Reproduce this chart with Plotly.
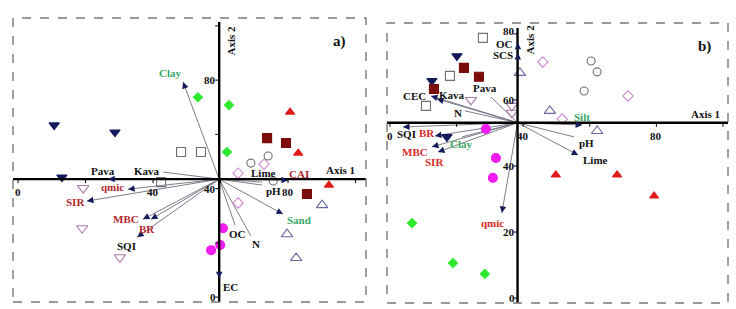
import plotly.graph_objects as go

W, H = 736, 309

# ---------------- Panel a) data (axis units as printed) ----------------
A_ORIGIN = (59.6, 43.5)
A_VARS = ["Clay", "Pava", "Kava", "qmic", "SIR", "MBC", "BR", "SQI",
          "Lime", "pH", "CAI", "Sand", "OC", "N", "EC"]
A_VAR_X = [48.9, 26.7, 43.0, 32.6, 20.4, 37.0, 39.4, 35.3,
           72.3, 72.3, 80.0, 78.5, 64.3, 69.0, 59.6]
A_VAR_Y = [79.3, 43.5, 46.1, 39.8, 35.4, 28.7, 28.7, 22.1,
           42.4, 41.3, 43.1, 30.6, 26.5, 22.5, 7.0]

A_SITE_GROUP = ["G1"] * 3 + ["G2"] * 3 + ["G3"] * 3 + ["G4"] * 3 + ["G5"] * 3 + \
               ["G6"] * 3 + ["G7"] * 3 + ["G8"] * 3 + ["G9"] * 3 + ["G10"] * 3
A_SITE_X = [10.7, 28.7, 13.0, 53.3, 62.5, 61.9, 48.3, 54.2, 42.4, 73.8, 79.4, 85.6,
            80.6, 83.0, 92.1, 74.1, 69.0, 75.6, 72.9, 65.2, 65.2, 19.3, 19.0, 30.2,
            90.1, 79.7, 82.4, 60.7, 59.9, 57.2]
A_SITE_Y = [63.4, 60.8, 44.2, 73.7, 70.8, 53.5, 53.5, 53.5, 42.4, 58.6, 56.8, 38.0,
            68.2, 53.1, 41.3, 52.0, 49.4, 42.8, 49.0, 45.7, 34.7, 40.2, 25.4, 14.7,
            33.9, 23.2, 14.4, 25.4, 19.2, 17.3]

A_XTICK_LABELS = [0, 40, 80]
A_YTICK_LABELS = [0, 40, 80]
A_TICKS = [0, 20, 40, 60, 80, 100]

# ---------------- Panel b) data ----------------
B_ORIGIN = (38.3, 53.1)
B_VARS = ["OC", "SCS", "Pava", "CEC", "Kava", "N", "SQI", "BR", "Clay",
          "MBC", "SIR", "qmic", "pH", "Lime", "Silt"]
B_VAR_X = [38.4, 38.4, 30.3, 12.3, 14.1, 22.5, 3.9, 13.5, 21.6,
           12.6, 14.4, 33.6, 55.3, 56.5, 57.7]
B_VAR_Y = [77.3, 74.2, 60.9, 61.2, 60.3, 56.7, 51.8, 49.1, 48.8,
           45.8, 44.2, 25.8, 48.8, 43.3, 52.4]

B_SITE_GROUP = A_SITE_GROUP
B_SITE_X = [20.1, 12.6, 17.1, 6.6, 18.9, 28.5, 27.9, 18.0, 10.8, 22.2, 26.7, 13.2,
            49.8, 68.2, 79.3, 60.4, 62.2, 58.3, 45.9, 71.5, 51.7, 24.3, 36.6, 36.6,
            39.0, 48.0, 62.2, 28.8, 31.8, 30.9]
B_SITE_Y = [73.3, 65.8, 48.8, 22.7, 10.6, 7.3, 78.8, 67.3, 58.2, 69.7, 67.0, 63.3,
            37.3, 37.3, 30.9, 71.8, 68.5, 62.7, 71.5, 61.2, 54.2, 60.0, 58.2, 56.1,
            68.2, 56.7, 50.6, 51.2, 42.4, 36.4]

B_XTICK_LABELS = [0, 40, 80]
B_YTICK_LABELS = [0, 20, 40, 60, 80]
B_TICKS_X = [0, 20, 40, 60, 80, 100]
B_TICKS_Y = [0, 20, 40, 60, 80]

# ---------------- styles ----------------
FONT = "Liberation Serif"
BLACK, RED_A, RED_B, GREEN = "#111111", "#b3262a", "#d92b2b", "#3aa866"
A_LABEL_COLOR = {"Clay": GREEN, "qmic": RED_A, "SIR": RED_A, "MBC": RED_A, "BR": RED_A,
                 "CAI": RED_A, "Sand": GREEN}
B_LABEL_COLOR = {"BR": RED_B, "MBC": RED_B, "SIR": RED_B, "qmic": RED_B,
                 "Clay": GREEN, "Silt": GREEN}
A_LABEL_SHIFT = {"Clay": (-13, 9), "Pava": (-5, 8), "Kava": (-16, 1), "qmic": (-16, 2),
                 "SIR": (-11, -1), "MBC": (-17, 0), "BR": (-4, -10), "SQI": (-11, -9),
                 "Lime": (1, 9), "pH": (11, -6), "CAI": (11, 6), "Sand": (16, -6),
                 "OC": (2, -9), "N": (5, -8), "EC": (11, -9)}
B_LABEL_SHIFT = {"OC": (-13, -1), "SCS": (-15, -2), "Pava": (-6, 9), "CEC": (-16, 0),
                 "Kava": (15, 4), "N": (-7, -2), "SQI": (4, -7), "BR": (-8, 3),
                 "Clay": (0, -7), "MBC": (-17, -5), "SIR": (-3, -10), "qmic": (-9, -10),
                 "pH": (12, -6), "Lime": (17, -5), "Silt": (0, 8)}
B_YTICK_SHIFT = {80: 3}
GROUP_STYLE = {
    "G1": dict(symbol="triangle-down", color="#14195e", size=9),
    "G2": dict(symbol="diamond", color="#2de82d", size=7),
    "G3": dict(symbol="square-open", color="#707070", size=9),
    "G4": dict(symbol="square", color="#7b0c0c", size=9),
    "G5": dict(symbol="triangle-up", color="#e01b1b", size=8),
    "G6": dict(symbol="circle-open", color="#707070", size=8),
    "G7": dict(symbol="diamond-open", color="#d48ad4", size=8),
    "G8": dict(symbol="triangle-down-open", color="#a87aa8", size=10),
    "G9": dict(symbol="triangle-up-open", color="#6a6aa2", size=10),
    "G10": dict(symbol="circle", color="#f01cf0", size=9),
}

fig = go.Figure()
annotations, shapes = [], []


def add_panel(xr, yr, origin, names, vx, vy, groups, sx, sy, lab_color, lab_shift,
              xtl, ytl, xt, yt, xrange, yrange, tag, axis_tags, ytick_shift):
    ox, oy = origin
    # arrow shafts (grey)
    lx, ly = [], []
    for x, y in zip(vx, vy):
        lx += [ox, x, None]
        ly += [oy, y, None]
    fig.add_trace(go.Scatter(x=lx, y=ly, mode="lines", xaxis=xr, yaxis=yr,
                             line=dict(color="#6e6e7e", width=0.9),
                             hoverinfo="skip", showlegend=False))
    # site markers
    for g, st in GROUP_STYLE.items():
        gx = [x for gg, x in zip(groups, sx) if gg == g]
        gy = [y for gg, y in zip(groups, sy) if gg == g]
        fig.add_trace(go.Scatter(
            x=gx, y=gy, mode="markers", xaxis=xr, yaxis=yr, showlegend=False,
            marker=dict(symbol=st["symbol"], size=st["size"], color=st["color"],
                        line=dict(color=st["color"], width=1.1))))
    # axes lines
    shapes.append(dict(type="line", xref=xr, yref=yr, x0=xrange[0], x1=xrange[1],
                       y0=oy, y1=oy, line=dict(color="black", width=2.4)))
    shapes.append(dict(type="line", xref=xr, yref=yr, x0=ox, x1=ox,
                       y0=yrange[0], y1=yrange[1] - 1.5, line=dict(color="black", width=2.4)))
    for v in xt:
        shapes.append(dict(type="line", xref=xr, yref=yr, x0=v, x1=v,
                           ysizemode="pixel", yanchor=oy, y0=0, y1=-4,
                           line=dict(color="black", width=1)))
    for v in yt:
        shapes.append(dict(type="line", xref=xr, yref=yr, y0=v, y1=v,
                           xsizemode="pixel", xanchor=ox, x0=-4, x1=0,
                           line=dict(color="black", width=1)))
    # dashed frame
    shapes.append(dict(type="rect", xref=xr + " domain", yref=yr + " domain",
                       x0=0, x1=1, y0=0, y1=1, layer="above",
                       line=dict(color="#7a7a7a", width=1.4, dash="dash")))
    # tick labels
    tf = dict(family=FONT, size=11, color=BLACK)
    for v in xtl:
        annotations.append(dict(x=v, y=oy, xref=xr, yref=yr, text="<b>%d</b>" % v,
                                showarrow=False, yanchor="top", yshift=-5, font=tf))
    for v in ytl:
        annotations.append(dict(x=ox, y=v, xref=xr, yref=yr, text="<b>%d</b>" % v,
                                showarrow=False, xanchor="right", xshift=-1,
                                yshift=ytick_shift.get(v, 0), font=tf))
    # arrowheads
    for x, y in zip(vx, vy):
        tx = x - 0.05 * (x - ox)
        ty = y - 0.05 * (y - oy)
        annotations.append(dict(x=x, y=y, ax=tx, ay=ty, xref=xr, yref=yr,
                                axref=xr, ayref=yr, text="", showarrow=True,
                                arrowhead=2, arrowsize=1.3, arrowwidth=1,
                                arrowcolor="#141a5a"))
    # variable labels
    for n, x, y in zip(names, vx, vy):
        dx, dy = lab_shift.get(n, (0, 0))
        annotations.append(dict(x=x, y=y, xref=xr, yref=yr, text="<b>%s</b>" % n,
                                showarrow=False, xshift=dx, yshift=dy,
                                font=dict(family=FONT, size=11,
                                          color=lab_color.get(n, BLACK))))
    # axis names & panel tag
    a1x, a1y, a2y = axis_tags
    annotations.append(dict(x=a1x, y=oy, xref=xr, yref=yr, text="<b>Axis 1</b>",
                            showarrow=False, yanchor="bottom", yshift=1,
                            font=dict(family=FONT, size=11, color=BLACK)))
    annotations.append(dict(x=ox, y=a2y, xref=xr, yref=yr, text="<b>Axis 2</b>",
                            showarrow=False, textangle=-90, xanchor="left", xshift=4,
                            font=dict(family=FONT, size=11, color=BLACK)))
    annotations.append(dict(x=tag[1], y=tag[2], xref=xr + " domain", yref=yr + " domain",
                            text="<b>%s</b>" % tag[0], showarrow=False,
                            font=dict(family=FONT, size=15, color=BLACK)))


A_XRANGE, A_YRANGE = [-1.5, 103.1], [-1.8, 102.9]
B_XRANGE, B_YRANGE = [-0.9, 101.5], [-1.5, 83.3]

add_panel("x", "y", A_ORIGIN, A_VARS, A_VAR_X, A_VAR_Y, A_SITE_GROUP, A_SITE_X, A_SITE_Y,
          A_LABEL_COLOR, A_LABEL_SHIFT, A_XTICK_LABELS, A_YTICK_LABELS, A_TICKS, A_TICKS,
          A_XRANGE, A_YRANGE, ("a)", 0.949, 0.954), (95.5, 0, 94.7), {})
add_panel("x2", "y2", B_ORIGIN, B_VARS, B_VAR_X, B_VAR_Y, B_SITE_GROUP, B_SITE_X, B_SITE_Y,
          B_LABEL_COLOR, B_LABEL_SHIFT, B_XTICK_LABELS, B_YTICK_LABELS, B_TICKS_X, B_TICKS_Y,
          B_XRANGE, B_YRANGE, ("b)", 0.956, 0.954), (94.8, 0, 78.2), B_YTICK_SHIFT)

ax_common = dict(visible=False, showgrid=False, zeroline=False, fixedrange=True)
fig.update_layout(
    width=W, height=H, margin=dict(l=0, r=0, t=0, b=0),
    paper_bgcolor="white", plot_bgcolor="white", showlegend=False,
    xaxis=dict(domain=[13 / W, 366 / W], range=A_XRANGE, **ax_common),
    yaxis=dict(domain=[7 / H, 291 / H], range=A_YRANGE, **ax_common),
    xaxis2=dict(domain=[387 / W, 728 / W], range=B_XRANGE, anchor="y2", **ax_common),
    yaxis2=dict(domain=[6 / H, 286 / H], range=B_YRANGE, anchor="x2", **ax_common),
    annotations=annotations, shapes=shapes,
)

fig.write_html("out.html", config={"displayModeBar": False},
               post_script="document.body.style.margin='0';document.body.style.overflow='hidden';")
